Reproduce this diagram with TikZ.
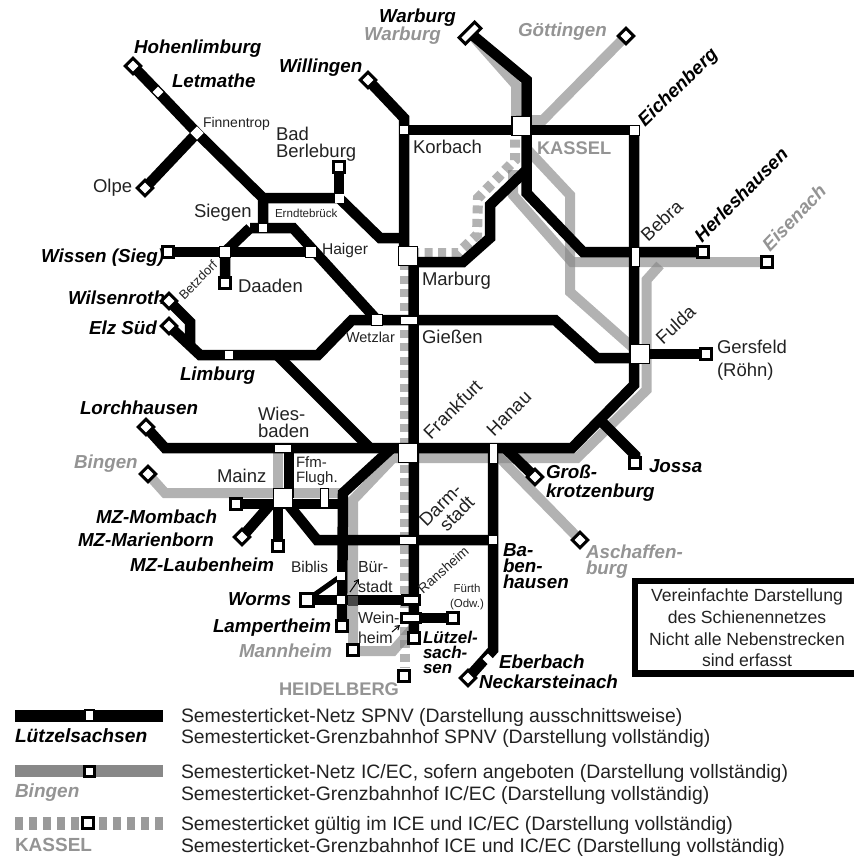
\documentclass[tikz,border=0pt]{standalone}
\usepackage{fontspec}
\setmainfont{Liberation Sans}
\usetikzlibrary{arrows.meta}
\pgfdeclarelayer{greylines}
\pgfdeclarelayer{blacklines}
\pgfsetlayers{greylines,blacklines,main}
\definecolor{gl}{HTML}{888888}
\definecolor{gt}{HTML}{949494}
\definecolor{tx}{HTML}{222222}
\newcommand\fs[2]{\fontsize{#1}{#2}\selectfont}
\tikzset{
  lab/.style={inner sep=0pt,outer sep=0pt,text=tx,font=\fs{18.5}{17}},
  labs/.style={lab,font=\fs{#1}{#1}},
  bi/.style={inner sep=0pt,outer sep=0pt,text=black,font=\fs{18.8}{16}\bfseries\itshape},
  gbi/.style={bi,text=gt},
  gb/.style={inner sep=0pt,outer sep=0pt,text=gt,font=\fs{18.3}{18}\bfseries},
  rl/.style={lab,font=\fs{18.5}{18},rotate=#1},
  rbi/.style={bi,rotate=#1},
  tb/.style={rectangle,draw=black,fill=white,line width=3pt,minimum size=11pt,inner sep=0pt},
  td/.style={tb,rotate=45},
  mid/.style={rectangle,fill=white,draw=none,minimum size=7.5pt,inner sep=0pt},
  midd/.style={mid,rotate=45},
  hub/.style={rectangle,fill=white,draw=black,line width=1.2pt,minimum size=19pt,inner sep=0pt},
  sq/.style={rectangle,fill=white,draw=black,line width=1pt,minimum size=11pt,inner sep=0pt},
  wide/.style={rectangle,fill=white,draw=black,line width=1pt,minimum width=#1,minimum height=8pt,inner sep=0pt},
  wideb/.style={rectangle,fill=white,draw=black,line width=2.5pt,minimum width=#1,minimum height=9pt,inner sep=0pt},
  tall/.style={rectangle,fill=white,draw=black,line width=1pt,minimum width=8pt,minimum height=#1,inner sep=0pt},
  bl/.style={draw=black,line width=10.5pt,line join=miter},
  blt/.style={draw=black,line width=5pt},
  gr/.style={draw=gl,draw opacity=.65,line width=10pt,line join=miter},
  gd/.style={draw=gl,draw opacity=.65,line width=10pt,dash pattern=on 8pt off 5.5pt},
  tick/.style={draw=black,line width=1pt,-{Straight Barb[length=4pt,width=5pt]}},
  legtxt/.style={lab,font=\fs{19.4}{19.4},anchor=base west},
}
\begin{document}
\begin{tikzpicture}[x=1pt,y=-1pt]
\useasboundingbox (0,0) rectangle (854,859);
% --- stations ---
\node[td] (hoh) at (133,66) {};
\node[midd] (let) at (158,92) {};
\node[midd,minimum size=9.5pt] (fin) at (197,133) {};
\node[td] (olp) at (145,188) {};
\node[tb] (ber) at (339,167) {};
\node[mid,minimum size=9pt] (ern) at (339,198) {};
\node[mid] (sie) at (263,228) {};
\node[td] (wil) at (368,80) {};
\node[mid] (kor) at (404,130) {};
\node[hub] (kas) at (521.5,126) {};
\node[hub] (mar) at (408,256) {};
\node[rectangle,draw=black,fill=white,line width=3pt,minimum width=22pt,minimum height=9pt,inner sep=0pt,rotate=45] (war) at (470,33) {};
\node[td] (goe) at (626,36) {};
\node[sq,minimum size=10pt] (eic) at (634,130) {};
\node[tall=19pt] (beb) at (635,257) {};
\node[tb] (her) at (703,252) {};
\node[tb] (eis) at (767,262) {};
\node[hub] (ful) at (640,354) {};
\node[tb] (ger) at (706,354) {};
\node[tb] (wis) at (168,252) {};
\node[sq] (bet) at (225,252) {};
\node[sq] (hai) at (311,252) {};
\node[tb] (daa) at (225,283) {};
\node[td] (wsr) at (169,301) {};
\node[td] (elz) at (169,326) {};
\node[mid] (lim) at (229,355) {};
\node[sq] (wet) at (377,320) {};
\node[wide=17pt] (gie) at (409,320) {};
\node[td] (lor) at (146,427) {};
\node[wide=17pt] (wie) at (283,448) {};
\node[td] (bin) at (148,474) {};
\node[hub] (mai) at (283,498) {};
\node[tall=19pt] (ffm) at (324,498) {};
\node[tb] (mom) at (236,504) {};
\node[td] (mab) at (242,537) {};
\node[tb] (lau) at (278,546) {};
\node[hub] (fra) at (408,453) {};
\node[tall=20pt] (han) at (493,453) {};
\node[td] (gro) at (535,477) {};
\node[tb] (jos) at (635,463) {};
\node[td] (asc) at (580,540) {};
\node[wide=17pt] (dar) at (408,540) {};
\node[mid] (bab) at (493,540) {};
\node[midd] (ebe) at (488,659) {};
\node[td] (nec) at (468,678) {};
\node[mid] (bib) at (341,576) {};
\node[mid] (bue) at (341,600) {};
\node[rectangle,draw=black,fill=white,line width=3pt,minimum size=13pt,inner sep=0pt] (wor) at (307,600) {};
\node[tb] (lam) at (342,626) {};
\node[wideb=17pt] (ran) at (411,600) {};
\node[wideb=19pt] (wei) at (411,618) {};
\node[tb] (fue) at (453,618) {};
\node[tb] (lue) at (414,638) {};
\node[tb] (man) at (353,650) {};
\node[tb] (hei) at (404,676) {};
% --- bends and line ends ---
\coordinate (sc) at (263,198);
\coordinate (sl) at (250,228);
\coordinate (sr) at (293,228);
\coordinate (ea) at (380,238);
\coordinate (eb) at (404,238);
\coordinate (wa) at (404,118);
\coordinate (ky) at (404,256);
\coordinate (ka) at (526.5,80);
\coordinate (kb) at (526.5,193);
\coordinate (kc) at (583,252);
\coordinate (kd) at (635,252);
\coordinate (mx) at (413.5,262);
\coordinate (ma) at (463,262);
\coordinate (mb) at (490,238);
\coordinate (mc) at (490,205);
\coordinate (md) at (526.5,170);
\coordinate (lw) at (200,355);
\coordinate (lx) at (318,355);
\coordinate (ly) at (352,320);
\coordinate (ga) at (555,320);
\coordinate (gb) at (597,358);
\coordinate (gc) at (640,358);
\coordinate (wa1) at (190,322);
\coordinate (wa2) at (190,345);
\coordinate (lf) at (277,355);
\coordinate (lg) at (370,448);
\coordinate (la) at (165,448);
\coordinate (fb) at (572,448);
\coordinate (fc) at (634,385);
\coordinate (fn) at (634,130);
\coordinate (ja) at (600,420);
\coordinate (jb) at (635,455);
\coordinate (gk) at (505,448);
\coordinate (hb) at (493,650);
\coordinate (de) at (317,540);
\coordinate (ff) at (343,493);
\coordinate (fg) at (392,448);
\coordinate (mh) at (343,504);
\coordinate (mi) at (270,505);
\coordinate (mj) at (278,505);
\coordinate (wm) at (289,448);
\coordinate (wn) at (289,498);
\coordinate (nw) at (413.5,262);
\coordinate (ns) at (414,638);
% grey points
\coordinate (g1) at (516,85);
\coordinate (g2) at (516,120);
\coordinate (g3) at (543,120);
\coordinate (g4) at (515,160);
\coordinate (g5) at (478,198);
\coordinate (g6) at (477,235);
\coordinate (g7) at (458,253);
\coordinate (g8) at (408,253);
\coordinate (g9) at (513,170);
\coordinate (g10) at (513,195);
\coordinate (g11) at (572,262);
\coordinate (g12) at (526,148);
\coordinate (g13) at (570,195);
\coordinate (g14) at (570,292);
\coordinate (g15) at (660,265);
\coordinate (g16) at (646.5,280);
\coordinate (g17) at (646.5,390);
\coordinate (g18) at (577,458);
\coordinate (g19) at (408,458);
\coordinate (g20) at (393,458);
\coordinate (g21) at (353,500);
\coordinate (g22) at (353,651);
\coordinate (g23) at (393,651);
\coordinate (g24) at (413,628);
\coordinate (g25) at (165,493);
\coordinate (g26) at (345,493);
\coordinate (g27) at (278,448);
\coordinate (g28) at (278,498);
\coordinate (g29) at (497,455);
\coordinate (g30) at (405,262);
\coordinate (g31) at (405,668);
\coordinate (g32) at (515,126);
% --- grey lines ---
\begin{pgfonlayer}{greylines}
\draw[gr] (war.center) -- (g1) -- (g2);
\draw[gr] (goe.center) -- (g3) -- (g2);
\draw[gr] (g9) -- (g10) -- (g11) -- (eis.center);
\draw[gr] (g12) -- (g13) -- (g14) -- (ful.center);
\draw[gr] (g15) -- (g16) -- (g17) -- (g18) -- (g19);
\draw[gr] (g19) -- (g20) -- (g21) -- (g22) -- (g23) -- (g24);
\draw[gr] (bin.center) -- (g25) -- (g26);
\draw[gr] (g27) -- (g28);
\draw[gr] (g29) -- (asc.center);
\draw[gd] (g32) -- (g4) -- (g5) -- (g6) -- (g7) -- (g8);
\draw[gd] (g30) -- (g31);
\end{pgfonlayer}
% --- black lines ---
\begin{pgfonlayer}{blacklines}
\draw[bl] (hoh.center) -- (let.center) -- (fin.center) -- (sc) -- (sie.center);
\draw[bl] (fin.center) -- (olp.center);
\draw[bl] (sc) -- (ern.center) -- (ea) -- (eb);
\draw[bl] (ber.center) -- (ern.center);
\draw[bl] (wil.center) -- (wa) -- (kor.center) -- (ky);
\draw[bl] (kor.center) -- (eic.center);
\draw[bl] (sl) -- (sr) -- (wet.center) -- (gie.center);
\draw[bl] (sl) -- (bet.center) -- (daa.center);
\draw[bl] (wis.center) -- (bet.center) -- (hai.center);
\draw[bl] (war.center) -- (ka) -- (kb) -- (kc) -- (kd) -- (her.center);
\draw[bl] (mx) -- (ma) -- (mb) -- (mc) -- (md);
\draw[bl] (nw) -- (ns);
\draw[bl] (fn) -- (fc) -- (fb) -- (gk);
\draw[bl] (ful.center) -- (ger.center);
\draw[bl] (gie.center) -- (ga) -- (gb) -- (gc);
\draw[bl] (wsr.center) -- (wa1) -- (wa2);
\draw[bl] (elz.center) -- (lw) -- (lim.center) -- (lx) -- (ly) -- (wet.center);
\draw[bl] (lf) -- (lg);
\draw[bl] (lor.center) -- (la) -- (gk);
\draw[bl] (ja) -- (jb) -- (jos.center);
\draw[bl] (gk) -- (gro.center);
\draw[bl] (han.center) -- (hb) -- (nec.center);
\draw[bl] (mai.center) -- (de) -- (bab.center);
\draw[bl] (mom.center) -- (mh);
\draw[bl] (mi) -- (mab.center);
\draw[bl] (mj) -- (lau.center);
\draw[bl] (wm) -- (wn);
\draw[bl] (fg) -- (ff) -- (lam.center);
\draw[bl] (wor.center) -- (ran.center);
\draw[bl] (wei.center) -- (fue.center);
\draw[blt] (wor.center) -- (bib.center);
\end{pgfonlayer}
\fill[black!72] (348,595.5) rectangle (358,605.5);
% --- labels ---
\node[bi,anchor=base west] (t1) at (134,53) {Hohenlimburg};
\node[bi,anchor=base west] (t2) at (172,88) {Letmathe};
\node[labs=14,anchor=base west] (t3) at (203,127) {Finnentrop};
\node[lab,align=left,anchor=north west] (t4) at (276,127) {Bad\\Berleburg};
\node[bi,anchor=base west] (t5) at (279,73) {Willingen};
\node[lab,anchor=base west] (t6) at (93,192) {Olpe};
\node[lab,anchor=base west] (t7) at (194,217) {Siegen};
\node[labs=11.6,anchor=base west] (t8) at (275,217) {Erndtebrück};
\node[labs=15.6,anchor=base west] (t9) at (322,254) {Haiger};
\node[bi,anchor=base west] (t10) at (41,262) {Wissen (Sieg)};
\node[lab,anchor=base west] (t11) at (238,292) {Daaden};
\node[labs=12.8,rotate=45] (t12) at (198,280) {Betzdorf};
\node[bi,anchor=base west] (t13) at (68,304) {Wilsenroth};
\node[bi,anchor=base west] (t14) at (89,334) {Elz Süd};
\node[labs=14.5,anchor=base west] (t15) at (346,342) {Wetzlar};
\node[lab,anchor=base west] (t16) at (422,343) {Gießen};
\node[lab,anchor=base west] (t17) at (422,285) {Marburg};
\node[lab,anchor=base west] (t18) at (413,153) {Korbach};
\node[gb,anchor=base west] (t19) at (537,154) {KASSEL};
\node[gbi,anchor=base west] (t20) at (518,37) {Göttingen};
\node[bi,anchor=base west] (t21) at (379,23) {Warburg};
\node[gbi,anchor=base west] (t22) at (364,41) {Warburg};
\node[rbi=44,anchor=base west] (t23) at (645,127) {Eichenberg};
\node[rbi=45,anchor=base west] (t24) at (702,243) {Herleshausen};
\node[gbi,rotate=46,anchor=base west] (t25) at (770,252) {Eisenach};
\node[rl=43,anchor=base west] (t26) at (648,242) {Bebra};
\node[rl=43,anchor=base west] (t27) at (663,345) {Fulda};
\node[lab,align=left,anchor=north west] (t28) at (717,340) {Gersfeld\\[6pt](Röhn)};
\node[bi,anchor=base west] (t29) at (180,380) {Limburg};
\node[bi,anchor=base west] (t30) at (80,414) {Lorchhausen};
\node[lab,align=left,anchor=north west] (t31) at (258,407) {Wies-\\baden};
\node[gbi,anchor=base west] (t32) at (74,468) {Bingen};
\node[lab,anchor=base west] (t33) at (217,482) {Mainz};
\node[labs=15,align=left,anchor=north west] (t34) at (296,457) {Ffm-\\Flugh.};
\node[bi,anchor=base west] (t35) at (96,523) {MZ-Mombach};
\node[bi,anchor=base west] (t36) at (78,546) {MZ-Marienborn};
\node[bi,anchor=base west] (t37) at (130,571) {MZ-Laubenheim};
\node[labs=15.5,anchor=base west] (t38) at (291,572) {Biblis};
\node[lab,font=\fs{16}{20},align=left,anchor=north west] (t39) at (358,561) {Bür-\\stadt};
\node[bi,anchor=base west] (t40) at (228,605) {Worms};
\node[bi,anchor=base west] (t41) at (213,632) {Lampertheim};
\node[lab,font=\fs{16}{20},align=left,anchor=north west] (t42) at (358,612) {Wein-\\heim};
\node[gbi,anchor=base west] (t43) at (239,657) {Mannheim};
\node[bi,font=\fs{17}{15}\bfseries\itshape,align=left,anchor=north west] (t44) at (423,631) {Lützel-\\sach-\\sen};
\node[gb,anchor=base west] (t45) at (279,695) {HEIDELBERG};
\node[labs=13.8,anchor=base west,rotate=41] (t46) at (423,594) {Ransheim};
\node[lab,font=\fs{11.5}{15},align=center,anchor=north] (t47) at (467,584) {Fürth\\(Odw.)};
\node[rl=45,anchor=base west] (t48) at (431,440) {Frankfurt};
\node[rl=45,anchor=base west] (t49) at (494,437) {Hanau};
\node[rl=45,align=right,anchor=north west] (t50) at (417.5,518.5) {Darm-\\stadt};
\node[bi,align=left,anchor=north west] (t51) at (503,544) {Ba-\\ben-\\hausen};
\node[bi,font=\fs{18.8}{19}\bfseries\itshape,align=left,anchor=north west] (t52) at (546,465) {Groß-\\krotzenburg};
\node[bi,anchor=base west] (t53) at (649,472) {Jossa};
\node[gbi,align=left,anchor=north west] (t54) at (586,545) {Aschaffen-\\burg};
\node[bi,anchor=base west] (t55) at (499,668) {Eberbach};
\node[bi,anchor=base west] (t56) at (479,688) {Neckarsteinach};
% small pointers from the labels to their stations
\coordinate (q1) at (350,592);
\coordinate (q2) at (359,579);
\coordinate (q3) at (392,632);
\coordinate (q4) at (400,625);
\draw[tick] (q1) -- (q2);
\draw[tick] (q3) -- (q4);
% --- notice box, open towards the picture's right edge ---
\coordinate (b1) at (854,581);
\coordinate (b2) at (635,581);
\coordinate (b3) at (635,673.5);
\coordinate (b4) at (854,673.5);
\draw[draw=black,line width=6.5pt,line join=miter] (b1) -- (b2) -- (b3) -- (b4);
\node[lab,font=\fs{17.6}{21.7},align=center,anchor=north] (boxt) at (747,589) {Vereinfachte Darstellung\\des Schienennetzes\\Nicht alle Nebenstrecken\\sind erfasst};
% --- legend ---
\node[rectangle,fill=white,draw=black,line width=2pt,minimum width=9pt,minimum height=11pt,inner sep=0pt] (lg1) at (89,715) {};
\node[tb,minimum size=10pt] (lg2) at (89,771) {};
\node[tb,minimum size=11pt] (lg3) at (88,823) {};
\coordinate (la1) at (15,715.5);
\coordinate (lb1) at (163,715.5);
\coordinate (la2) at (15,771);
\coordinate (lb2) at (163,771);
\coordinate (la3) at (15,823.5);
\coordinate (lb3) at (163,823.5);
\begin{pgfonlayer}{blacklines}
\draw[draw=black,line width=12pt] (la1) -- (lb1);
\draw[draw=gl,line width=12pt] (la2) -- (lb2);
\draw[draw=gl,draw opacity=.85,line width=13pt,dash pattern=on 7.5pt off 6.5pt] (la3) -- (lb3);
\end{pgfonlayer}
\node[bi,font=\fs{19.2}{19}\bfseries\itshape,anchor=base west] (l1) at (15,742) {Lützelsachsen};
\node[gbi,font=\fs{19}{19}\bfseries\itshape,anchor=base west] (l2) at (15,797) {Bingen};
\node[gb,font=\fs{19}{19}\bfseries,anchor=base west] (l3) at (15,851) {KASSEL};
\node[legtxt] (d1) at (181,722) {Semesterticket-Netz SPNV (Darstellung ausschnittsweise)};
\node[legtxt] (d2) at (181,743) {Semesterticket-Grenzbahnhof SPNV (Darstellung vollständig)};
\node[legtxt] (d3) at (181,778) {Semesterticket-Netz IC/EC, sofern angeboten (Darstellung vollständig)};
\node[legtxt] (d4) at (181,800) {Semesterticket-Grenzbahnhof IC/EC (Darstellung vollständig)};
\node[legtxt] (d5) at (181,830) {Semesterticket gültig im ICE und IC/EC (Darstellung vollständig)};
\node[legtxt] (d6) at (181,852) {Semesterticket-Grenzbahnhof ICE und IC/EC (Darstellung vollständig)};
\end{tikzpicture}
\end{document}
